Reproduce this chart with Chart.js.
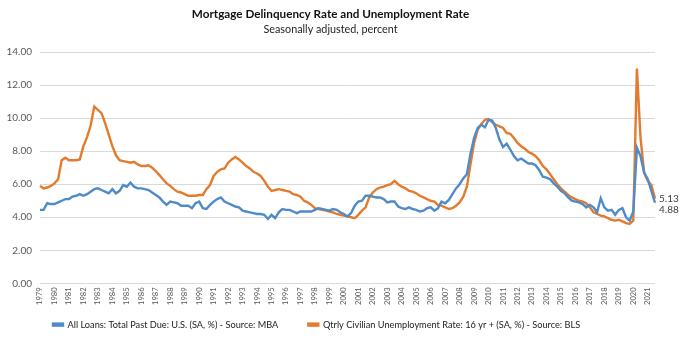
<!DOCTYPE html>
<html>
<head>
<meta charset="utf-8">
<script src="https://cdn.jsdelivr.net/npm/chart.js@4.4.0/dist/chart.umd.min.js"></script>
<style>
  body { margin: 0; background: #fff; }
  #wrap { width: 680px; height: 343px; }
</style>
</head>
<body>
<div id="wrap"><canvas id="chart"></canvas></div>
<script>
// tick labels on the x axis, one per year (first quarter)
const years = [];
for (let y = 1979; y <= 2021; y++) years.push(String(y));
const quarterNames = ['Q1', 'Q2', 'Q3', 'Q4'];

// MBA delinquency rate, quarterly 1979Q1 - 2021Q3
const delinquency = [
    4.45, 4.45, 4.85, 4.8,   // 1979
    4.8, 4.9, 5.0, 5.1,      // 1980
    5.1, 5.25, 5.3, 5.4,
    5.3, 5.4, 5.55, 5.7,
    5.75, 5.65, 5.55, 5.45,
    5.7, 5.45, 5.6, 5.95,    // 1984
    5.85, 6.1, 5.85, 5.75,
    5.75, 5.7, 5.65, 5.5,
    5.35, 5.2, 4.95, 4.75,
    4.95, 4.9, 4.85, 4.7,
    4.7, 4.7, 4.55, 4.85,    // 1989
    4.95, 4.55, 4.5, 4.75,
    4.95, 5.1, 5.2, 4.95,
    4.85, 4.75, 4.65, 4.6,
    4.4, 4.35, 4.3, 4.25,
    4.2, 4.2, 4.15, 3.9,     // 1994
    4.15, 3.95, 4.3, 4.5,
    4.45, 4.45, 4.35, 4.25,
    4.35, 4.35, 4.35, 4.35,
    4.45, 4.55, 4.5, 4.45,
    4.4, 4.5, 4.45, 4.3,     // 1999
    4.2, 4.05, 4.25, 4.7,
    4.95, 5.0, 5.3, 5.3,
    5.25, 5.2, 5.2, 5.1,
    4.9, 4.95, 4.95, 4.65,
    4.55, 4.5, 4.6, 4.5,     // 2004
    4.45, 4.35, 4.4, 4.55,
    4.6, 4.4, 4.55, 4.95,
    4.85, 5.05, 5.4, 5.75,
    6.0, 6.35, 6.6, 7.85,
    8.8, 9.4, 9.6, 9.45,     // 2009
    9.9, 9.85, 9.4, 8.7,
    8.25, 8.45, 8.1, 7.7,
    7.45, 7.55, 7.4, 7.25,
    7.25, 7.15, 6.85, 6.45,
    6.4, 6.3, 6.05, 5.85,    // 2014
    5.6, 5.45, 5.2, 5.0,
    4.95, 4.9, 4.8, 4.6,
    4.75, 4.6, 4.3, 5.15,
    4.6, 4.4, 4.45, 4.15,
    4.45, 4.55, 4.0, 3.8,    // 2019
    4.35, 8.2, 7.7, 6.7,
    6.3, 5.6, 4.88           // 2021
];

// civilian unemployment rate 16 yr +, quarterly 1979Q1 - 2021Q3
const unemployment = [
    5.9, 5.75, 5.8, 5.9,     // 1979
    6.05, 6.3, 7.45, 7.6,
    7.45, 7.45, 7.45, 7.5,
    8.3, 8.85, 9.55, 10.7,
    10.5, 10.3, 9.7, 9.0,
    8.3, 7.75, 7.45, 7.4,    // 1984
    7.35, 7.3, 7.35, 7.2,
    7.1, 7.1, 7.15, 7.0,
    6.8, 6.55, 6.3, 6.05,
    5.9, 5.7, 5.55, 5.5,
    5.4, 5.3, 5.3, 5.3,      // 1989
    5.35, 5.35, 5.7, 5.95,
    6.5, 6.75, 6.9, 6.95,
    7.3, 7.5, 7.65, 7.5,
    7.3, 7.1, 6.95, 6.75,
    6.65, 6.5, 6.2, 5.85,    // 1994
    5.6, 5.65, 5.7, 5.65,
    5.6, 5.55, 5.4, 5.35,
    5.25, 5.0, 4.9, 4.75,
    4.55, 4.5, 4.45, 4.4,
    4.35, 4.3, 4.2, 4.15,    // 1999
    4.1, 4.05, 4.0, 3.95,
    4.15, 4.4, 4.6, 5.2,
    5.5, 5.7, 5.8, 5.85,
    5.95, 6.0, 6.2, 6.0,
    5.85, 5.75, 5.6, 5.55,   // 2004
    5.45, 5.3, 5.2, 5.1,
    5.0, 4.95, 4.75, 4.7,
    4.6, 4.5, 4.55, 4.7,
    4.9, 5.25, 5.85, 7.2,
    8.5, 9.3, 9.65, 9.9,     // 2009
    9.95, 9.75, 9.6, 9.5,
    9.4, 9.1, 9.05, 8.8,
    8.5, 8.3, 8.15, 7.95,
    7.85, 7.7, 7.45, 7.1,
    6.9, 6.6, 6.3, 6.0,      // 2014
    5.75, 5.55, 5.35, 5.2,
    5.1, 5.0, 4.95, 4.85,
    4.6, 4.3, 4.2, 4.1,
    4.05, 3.95, 3.85, 3.8,
    3.85, 3.75, 3.65, 3.6,   // 2019
    3.8, 13.0, 8.8, 6.7,
    6.2, 5.95, 5.13          // 2021
];

// one category per quarter
const quarters = [];
years.forEach(y => quarterNames.forEach(q => quarters.push(y + ' ' + q)));
quarters.length = delinquency.length;

const FONT = 'Lato, "Open Sans", sans-serif';
const blue = '#4e8bc8';
const orange = '#e37b2e';

// last values written next to the line ends
const endLabels = {
    id: 'endLabels',
    afterDatasetsDraw(chart) {
        const ctx = chart.ctx;
        const x = chart.scales.x.getPixelForValue(quarters.length - 1) + 4;
        const yO = chart.scales.y.getPixelForValue(unemployment[unemployment.length - 1]);
        let yB = chart.scales.y.getPixelForValue(delinquency[delinquency.length - 1]);
        if (yB < yO + 11) yB = yO + 11;
        ctx.save();
        ctx.font = '10px ' + FONT;
        ctx.fillStyle = '#404040';
        ctx.textBaseline = 'middle';
        ctx.fillText(unemployment[unemployment.length - 1].toFixed(2), x, yO);
        ctx.fillText(delinquency[delinquency.length - 1].toFixed(2), x, yB);
        ctx.restore();
    }
};

// the legend sits left of centre with wide gaps, like the Excel original
const legendShift = {
    id: 'legendShift',
    afterLayout(chart) {
        const l = chart.legend;
        l.left += 17;
        l.right += 17;
        l.top -= 19;
    }
};

new Chart(document.getElementById('chart'), {
    type: 'line',
    data: {
        labels: quarters,
        datasets: [
            {
                label: 'All Loans: Total Past Due: U.S. (SA, %) - Source: MBA',
                data: delinquency,
                borderColor: blue,
                backgroundColor: blue,
                borderWidth: 2.4,
                pointRadius: 0,
                tension: 0
            },
            {
                label: 'Qtrly Civilian Unemployment Rate: 16 yr + (SA, %) - Source: BLS',
                data: unemployment,
                borderColor: orange,
                backgroundColor: orange,
                borderWidth: 2.4,
                pointRadius: 0,
                tension: 0
            }
        ]
    },
    options: {
        responsive: true,
        maintainAspectRatio: false,
        animation: false,
        layout: { padding: { left: 6, right: 25, top: 0, bottom: 9 } },
        plugins: {
            title: {
                display: true,
                text: 'Mortgage Delinquency Rate and Unemployment Rate',
                color: '#111',
                font: { family: FONT, size: 11.7, weight: 'bold' },
                padding: { top: 7, bottom: 2 }
            },
            subtitle: {
                display: true,
                text: 'Seasonally adjusted, percent',
                color: '#222',
                font: { family: FONT, size: 10.8 },
                padding: { top: 0, bottom: 16 }
            },
            legend: {
                position: 'bottom',
                align: 'start',
                maxHeight: 25,
                labels: {
                    boxWidth: 10,
                    boxHeight: 2,
                    padding: 30,
                    color: '#222',
                    font: { family: FONT, size: 9.2 }
                }
            },
            tooltip: { enabled: false }
        },
        scales: {
            x: {
                grid: { display: false, drawTicks: false },
                border: { display: false },
                ticks: {
                    autoSkip: false,
                    maxRotation: 90,
                    minRotation: 90,
                    padding: 4,
                    color: '#595959',
                    font: { family: FONT, size: 7.6 },
                    callback: (v, i) => (i % 4 === 0 ? years[i / 4] : '')
                }
            },
            y: {
                min: 0,
                max: 14,
                afterFit: s => { s.width = 34; },
                grid: { color: '#d9d9d9', drawTicks: false },
                border: { display: false },
                ticks: {
                    stepSize: 2,
                    padding: 8,
                    color: '#595959',
                    font: { family: FONT, size: 10 },
                    callback: v => v.toFixed(2)
                }
            }
        }
    },
    plugins: [endLabels, legendShift]
});
</script>
</body>
</html>
